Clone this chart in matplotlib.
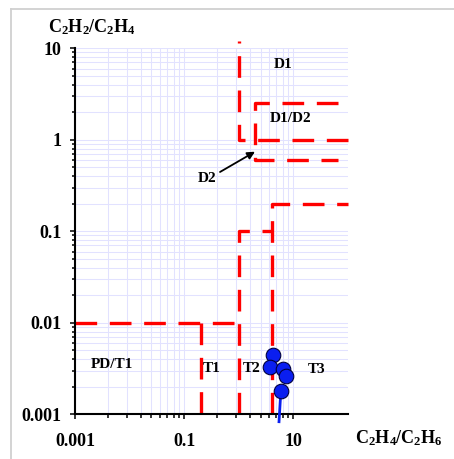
import matplotlib
matplotlib.use('Agg')
import matplotlib.pyplot as plt
from matplotlib.lines import Line2D
import numpy as np

plt.rcParams['font.family'] = ['Liberation Serif', 'DejaVu Serif']
plt.rcParams['font.weight'] = 'bold'
plt.rcParams['mathtext.fontset'] = 'custom'
plt.rcParams['mathtext.rm'] = 'Liberation Serif:bold'
plt.rcParams['mathtext.bf'] = 'Liberation Serif:bold'
plt.rcParams['mathtext.it'] = 'Liberation Serif:bold'

# measured points (C2H4/C2H6, C2H2/C2H4)
ratio_c2h4_c2h6 = [4.3, 3.7, 6.5, 7.3, 5.9]
ratio_c2h2_c2h4 = [0.0045, 0.0033, 0.0031, 0.0026, 0.0018]
# trail leaving the last point towards the bottom
trail_x = [5.9, 5.45]
trail_y = [0.0018, 0.00083]

# zone boundaries (polylines)
boundaries = [
    ([100, 1, 1], [1, 1, 12]),                  # D1
    ([65, 2, 2, 65], [2.5, 2.5, 0.6, 0.6]),     # D1/D2
    ([0.001, 1], [0.01, 0.01]),                 # PD/T1
    ([0.2, 0.2], [0.01, 0.001]),                # T1
    ([1, 1, 4], [0.001, 0.1, 0.1]),             # T2
    ([4, 4, 100], [0.001, 0.2, 0.2]),           # T3
]

zone_labels = ['D1', 'D1/D2', 'PD/T1', 'T1', 'T2', 'T3']
zone_x = [6.45, 9.0, 0.0048, 0.32, 1.69, 26.3]
zone_y = [6.7, 1.7, 0.00346, 0.00315, 0.00315, 0.00305]

x_major = [0.001, 0.1, 10]
x_major_labels = ['0.001', '0.1', '10']
y_major = [0.001, 0.01, 0.1, 1, 10]
y_major_labels = ['0.001', '0.01', '0.1', '1', '10']

W, H = 454, 459
fig = plt.figure(figsize=(W / 100, H / 100), dpi=100)
ax = fig.add_axes([75 / W, 1 - 414.3 / H, 273 / W, 366 / H])

ax.set_xscale('log')
ax.set_yscale('log')
ax.set_xlim(0.001, 100)
ax.set_ylim(0.001, 10)

# x axis behaves like a base-100 log axis: minor ticks at k^2 inside each step
x_minor = [b * k * k for b in (0.001, 0.1) for k in range(2, 10)]
y_minor = [10.0 ** e * k for e in range(-3, 1) for k in range(2, 10)]

ax.set_xticks(x_major)
ax.set_xticklabels(x_major_labels)
ax.set_xticks(x_minor, minor=True)
ax.set_xticklabels([], minor=True)
ax.set_yticks(y_major)
ax.set_yticklabels(y_major_labels)
ax.set_yticks(y_minor, minor=True)
ax.set_yticklabels([], minor=True)

grid_color = '#E2E2FF'
ax.grid(True, which='both', color=grid_color, linewidth=0.75, zorder=0)
ax.set_axisbelow(True)

for s in ('top', 'right'):
    ax.spines[s].set_visible(False)
for s in ('left', 'bottom'):
    ax.spines[s].set_linewidth(1.5)
    ax.spines[s].set_zorder(5)

ax.tick_params(axis='both', which='major', labelsize=13, width=1.1, length=3.6)
ax.tick_params(axis='y', which='minor', width=1.1, length=2.4)
ax.tick_params(axis='x', which='minor', width=1.1, length=3.0)
ax.tick_params(axis='x', which='major', pad=10)
ax.tick_params(axis='y', which='major', pad=6)
for lab in ax.get_xticklabels() + ax.get_yticklabels():
    lab.set_fontweight('bold')

for bx, by in boundaries:
    ax.plot(bx, by, color='#FF0000', linewidth=2.4, linestyle=(0, (6.5, 3.8)),
            solid_joinstyle='miter', dash_capstyle='butt', clip_on=False, zorder=3)

for txt, tx, ty in zip(zone_labels, zone_x, zone_y):
    ax.text(tx, ty, txt, fontsize=11, fontweight='bold', ha='center', va='center', zorder=4)

ax.text(0.267, 0.382, 'D2', fontsize=11, fontweight='bold', ha='center', va='center', zorder=4)
ax.annotate('', xy=(1.98, 0.741), xytext=(0.453, 0.445),
            arrowprops=dict(arrowstyle='-|>', color='black', lw=1.3,
                            mutation_scale=11, shrinkA=0, shrinkB=0), zorder=4)

ax.plot(trail_x, trail_y, color='#0A1EF0', linewidth=2.0, clip_on=False, zorder=6)
ax.plot(ratio_c2h4_c2h6, ratio_c2h2_c2h4, linestyle='none', marker='o', markersize=10.5,
        markerfacecolor='#0A1EF0', markeredgecolor='#000040', markeredgewidth=0.8,
        clip_on=False, zorder=7)

fig.text(48 / W, 1 - 27 / H, r'$\mathrm{C_2H_2/C_2H_4}$', fontsize=13,
         ha='left', va='center')
fig.text(355 / W, 1 - 438 / H, r'$\mathrm{C_2H_4/C_2H_6}$', fontsize=13,
         ha='left', va='center')

# chart-area frame (only top and left edges are inside the picture)
frame_c = '#D0D0D0'
fig.add_artist(Line2D([11 / W, 1.0], [1 - 9 / H, 1 - 9 / H], transform=fig.transFigure,
                      color=frame_c, linewidth=1.3))
fig.add_artist(Line2D([11 / W, 11 / W], [0.0, 1 - 9 / H], transform=fig.transFigure,
                      color=frame_c, linewidth=1.3))

fig.savefig('out.png', dpi=100)
